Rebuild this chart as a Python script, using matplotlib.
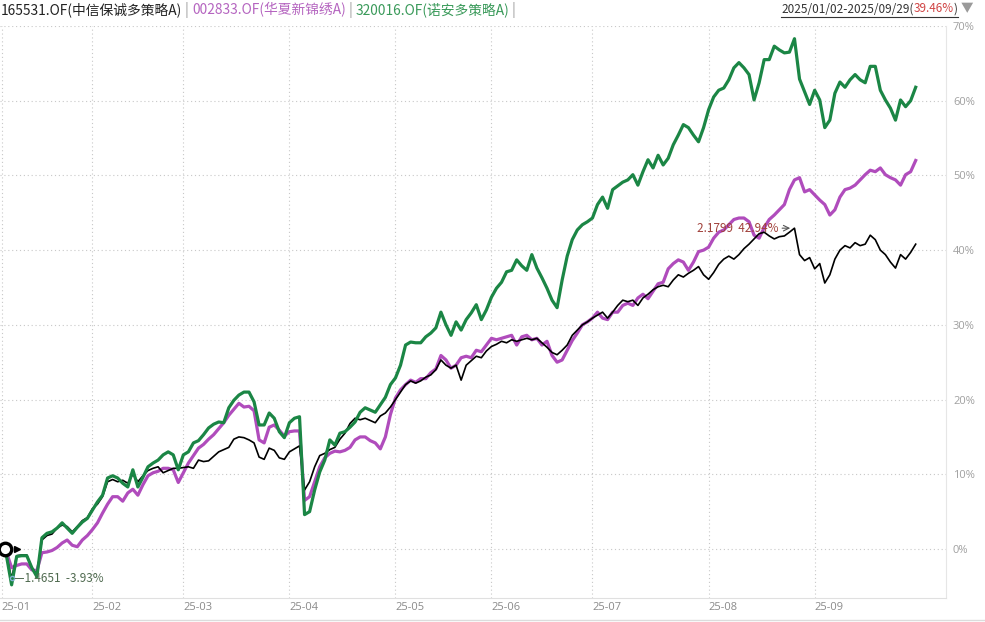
import matplotlib
matplotlib.use("Agg")
import matplotlib.pyplot as plt
from matplotlib.lines import Line2D

plt.rcParams['font.family'] = ['Noto Sans CJK SC', 'DejaVu Sans']

# trading-day index of the first session of each month
month_idx = [0, 18, 36, 57, 78, 97, 117, 140, 161]
month_labels = ['25-01', '25-02', '25-03', '25-04', '25-05', '25-06', '25-07', '25-08', '25-09']
y_ticks = [0, 10, 20, 30, 40, 50, 60, 70]

# cumulative return (%) per trading day, 2025-01-02 .. 2025-09-29
main_fund = [  # 165531.OF
    0, -1.0, -3.93, -0.9, -0.8, -0.8, -2.5, -3.5, 1.2, 1.8,
    2.0, 2.8, 3.2, 3.0, 2.3, 3.0, 3.8, 4.2, 5.4, 6.0,
    7.0, 9.0, 9.3, 9.0, 9.2, 8.8, 10.0, 9.0, 9.8, 10.5,
    10.8, 11.0, 10.2, 10.5, 10.8, 10.8, 10.9, 11.0, 10.8, 11.9,
    11.7, 11.8, 12.4, 13.0, 13.3, 13.6, 14.7, 15.0, 14.9, 14.6,
    14.2, 12.3, 12.0, 13.5, 13.2, 12.2, 12.0, 13.0, 13.4, 13.8,
    7.9, 9.0, 11.0, 12.5, 12.8, 13.3, 13.6, 14.7, 15.5, 16.8,
    17.5, 17.3, 17.5, 17.2, 16.9, 17.8, 18.2, 19.0, 20.0, 21.0,
    22.0, 22.5, 22.2, 22.5, 23.0, 23.3, 24.0, 25.3, 24.6, 24.2,
    24.6, 22.6, 24.6, 25.2, 25.8, 25.6, 26.5, 27.1, 27.4, 27.8,
    27.6, 28.0, 27.8, 28.0, 28.2, 28.0, 28.2, 27.6, 27.0, 26.3,
    26.0, 26.6, 27.3, 28.6, 29.3, 30.0, 30.4, 30.9, 31.3, 31.7,
    30.9, 31.7, 32.6, 33.3, 33.1, 33.3, 32.6, 33.6, 34.1, 34.7,
    35.1, 35.3, 35.1, 36.0, 36.7, 36.4, 36.9, 37.3, 37.8, 36.7,
    36.1, 37.0, 38.1, 38.8, 39.2, 38.8, 39.4, 40.2, 40.8, 41.5,
    42.2, 42.4, 41.9, 41.5, 41.8, 41.9, 42.4, 42.94, 39.4, 38.6,
    39.0, 37.5, 38.2, 35.6, 36.7, 38.8, 40.0, 40.6, 40.3, 41.0,
    40.6, 40.8, 42.0, 41.4, 40.0, 39.4, 38.4, 37.6, 39.4, 38.8,
    39.7, 40.8,
]
hx_fund = [  # 002833.OF
    0, -0.5, -2.5, -2.2, -2.0, -2.0, -2.8, -2.9, -0.5, -0.4,
    -0.2, 0.2, 0.8, 1.2, 0.5, 0.3, 1.2, 1.8, 2.6, 3.5,
    4.8, 6.0, 7.0, 7.0, 6.4, 7.5, 8.0, 7.2, 8.6, 9.8,
    10.2, 10.4, 10.8, 10.8, 10.6, 8.9, 10.2, 11.5, 12.5, 13.5,
    14.0, 14.7, 15.3, 16.1, 16.9, 17.9, 18.7, 19.5, 19.0, 19.1,
    18.5, 14.6, 14.2, 16.3, 16.6, 15.9, 15.1, 15.7, 15.8, 15.8,
    6.5, 7.0, 9.0, 11.0, 12.2, 12.8, 13.1, 13.0, 13.2, 13.6,
    14.6, 15.0, 15.0, 14.5, 14.2, 13.4, 15.0, 18.0, 20.2, 21.3,
    22.0, 22.6, 22.3, 22.8, 22.8, 23.6, 24.1, 25.9, 25.3, 24.2,
    24.6, 25.6, 25.8, 25.6, 26.6, 26.4, 27.3, 28.2, 28.0, 28.2,
    28.4, 28.6, 27.3, 28.4, 28.6, 28.0, 28.2, 27.3, 27.8, 25.9,
    25.0, 25.3, 26.6, 27.9, 28.9, 30.0, 30.4, 30.9, 31.7, 30.9,
    30.7, 31.7, 31.7, 32.6, 32.9, 32.6, 33.6, 34.1, 33.5, 34.5,
    35.5, 35.7, 37.5, 38.2, 38.7, 38.4, 37.3, 38.4, 39.8, 40.0,
    40.4, 41.6, 42.4, 42.7, 43.4, 44.1, 44.3, 44.3, 43.8, 42.0,
    41.6, 43.0, 44.1, 44.7, 45.4, 46.1, 48.1, 49.4, 49.7, 47.8,
    48.1, 47.4, 46.7, 46.1, 44.7, 45.4, 47.1, 48.1, 48.3, 48.7,
    49.4, 50.1, 50.7, 50.5, 51.0, 50.1, 49.7, 49.4, 48.7, 50.1,
    50.5, 52.0,
]
na_fund = [  # 320016.OF
    0, -1.0, -4.8, -1.0, -0.9, -0.9, -2.5, -3.7, 1.5, 2.1,
    2.3, 2.8, 3.5, 2.8, 2.1, 2.9, 3.6, 4.1, 5.2, 6.3,
    7.2, 9.5, 9.8, 9.5, 8.8, 8.3, 10.6, 8.3, 9.6, 11.0,
    11.5, 11.9, 12.6, 13.0, 12.6, 10.6, 12.6, 13.0, 14.2, 14.5,
    15.3, 16.2, 16.7, 17.0, 16.9, 18.9, 19.9, 20.6, 21.0, 21.0,
    19.7, 16.6, 16.6, 18.2, 17.5, 15.7, 14.9, 16.9, 17.5, 17.7,
    4.6, 5.0, 7.9, 10.3, 11.9, 14.6, 13.9, 15.5, 15.7, 16.3,
    17.0, 18.3, 18.9, 18.6, 18.3, 19.3, 20.3, 22.0, 22.9, 24.6,
    27.3, 27.7, 27.6, 27.6, 28.4, 28.9, 29.6, 31.7, 30.0, 28.6,
    30.4, 29.3, 30.7, 31.6, 32.7, 30.7, 32.0, 33.7, 34.9, 35.7,
    37.1, 37.3, 38.7, 37.9, 37.3, 39.4, 37.6, 36.3, 34.9, 33.3,
    32.3, 36.0, 39.2, 41.4, 42.7, 43.4, 43.8, 44.3, 46.1, 47.1,
    45.6, 48.1, 48.6, 49.1, 49.4, 50.1, 48.7, 50.5, 52.1, 51.0,
    52.7, 51.4, 52.3, 54.1, 55.4, 56.8, 56.4, 55.4, 54.5, 56.4,
    58.8, 60.5, 61.4, 61.7, 62.8, 64.4, 65.1, 64.4, 63.5, 60.1,
    62.4, 65.5, 65.5, 67.3, 66.8, 66.4, 66.5, 68.3, 62.9, 61.2,
    59.5, 61.4, 60.1, 56.4, 57.4, 61.0, 62.5, 61.8, 62.8, 63.5,
    62.8, 62.4, 64.6, 64.6, 61.4, 60.1, 59.0, 57.4, 60.1, 59.2,
    60.0, 61.8,
]

W, H = 985, 622
fig = plt.figure(figsize=(W / 100, H / 100), dpi=100)
ax = fig.add_axes([0, 24 / H, 946 / W, (598 - 26) / H])

days = list(range(len(main_fund)))
ax.plot(days, hx_fund, color='#b04cbc', lw=2.3, solid_joinstyle='round', zorder=3)
ax.plot(days, main_fund, color='black', lw=1.2, zorder=4)
ax.plot(days, na_fund, color='#1b8645', lw=2.3, solid_joinstyle='round', zorder=5)

ax.set_xlim(-0.3, 187)
ax.set_ylim(-6.56, 70)

ax.set_yticks(y_ticks)
ax.set_yticklabels([f'{v}%' for v in y_ticks])
ax.yaxis.tick_right()
ax.tick_params(axis='y', length=0, pad=5, labelsize=8, labelcolor='#a0a0a0')
for lbl in ax.get_yticklabels():
    lbl.set_fontfamily(['Open Sans', 'DejaVu Sans'])

ax.set_xticks(month_idx)
ax.set_xticklabels(month_labels)
ax.tick_params(axis='x', length=0, pad=3, labelsize=8, labelcolor='#8a8a8a')
for lbl in ax.get_xticklabels():
    lbl.set_horizontalalignment('left')
    lbl.set_fontfamily(['Open Sans', 'DejaVu Sans'])

ax.grid(True, linestyle=(0, (1, 2.5)), color='#c8c8c8', lw=0.8)
ax.set_axisbelow(True)
for side in ['top', 'left']:
    ax.spines[side].set_visible(False)
ax.spines['right'].set_color('#e6e6e6')
ax.spines['bottom'].set_color('#e0e0e0')
fig.add_artist(Line2D([0, 1], [2 / H, 2 / H], color='#dcdcdc', lw=1))

# start marker
ax.plot(0.7, 0, 'o', ms=9, mfc='white', mec='black', mew=2.4, zorder=7)
ax.plot(3.0, 0, '>', ms=4, color='black', zorder=7)

# min / max annotations of the main fund
imin = main_fund.index(min(main_fund))
imax = main_fund.index(max(main_fund))
ax.plot(imin, main_fund[imin], 'o', ms=3, mfc='none', mec='#7fb0d0', zorder=8)
ax.text(imin + 0.4, main_fund[imin], '—1.4651  -3.93%', fontsize=8.5, color='#4f6a4f',
        ha='left', va='center', zorder=8)
ax.text(imax - 3.2, main_fund[imax], '2.1799  42.94%', fontsize=8.5, color='#a0403a',
        ha='right', va='center', zorder=8)
ax.annotate('', xy=(imax - 0.3, main_fund[imax]), xytext=(imax - 3.0, main_fund[imax]),
            arrowprops=dict(arrowstyle='->', color='#555555', lw=0.8), zorder=8)

# header legend
fig.canvas.draw()
renderer = fig.canvas.get_renderer()
pieces = [('165531.OF(中信保诚多策略A)', '#222222'), (' | ', '#999999'),
          ('002833.OF(华夏新锦绣A)', '#b565c0'), (' | ', '#999999'),
          ('320016.OF(诺安多策略A)', '#3a9a5a'), (' |', '#999999')]
x = 1 / W
for s, c in pieces:
    t = fig.text(x, 1 - 10 / H, s, color=c, fontsize=9.9, va='center', ha='left')
    x = t.get_window_extent(renderer).x1 / W

right = [('2025/01/02-2025/09/29(', '#333333'), ('39.46%', '#d04444'), (')', '#333333')]
x0 = 781 / W
x = x0
for s, c in right:
    t = fig.text(x, 1 - 9 / H, s, color=c, fontsize=8.5, va='center', ha='left')
    x = t.get_window_extent(renderer).x1 / W
fig.add_artist(Line2D([x0, x], [1 - 17 / H] * 2, color='#333333', lw=0.8))
fig.text(x + 3 / W, 1 - 9 / H, '▼', color='#9a9a9a', fontsize=9, va='center', ha='left')

fig.savefig('out.png', dpi=100)
